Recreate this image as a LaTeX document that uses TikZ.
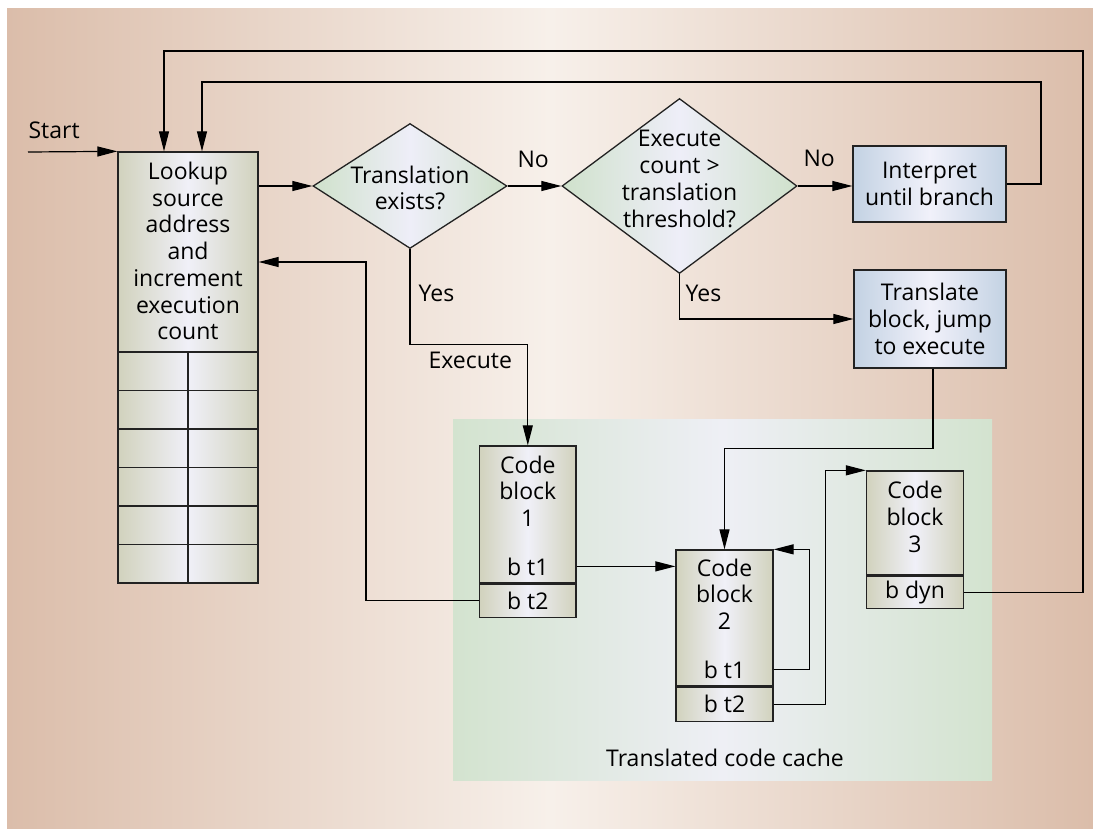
\documentclass[tikz,border=0pt]{standalone}
\usepackage{fontspec}
\setmainfont{Open Sans}
\usetikzlibrary{shapes.geometric,arrows.meta}
\definecolor{bgside}{HTML}{DBBDAA}
\definecolor{bgmid}{HTML}{F7F0EA}
\definecolor{cacheedge}{HTML}{D3E3CF}
\definecolor{cachemid}{HTML}{EEEFF5}
\definecolor{boxedge}{HTML}{D1D2BD}
\definecolor{boxmid}{HTML}{F0F0F8}
\definecolor{diaedge}{HTML}{CFE1CB}
\definecolor{diamid}{HTML}{EEEEF8}
\definecolor{blueedge}{HTML}{C3D2E3}
\definecolor{bluemid}{HTML}{F1F1FA}
\definecolor{linec}{HTML}{222222}
\begin{document}
\begin{tikzpicture}[x=1bp,y=-1bp,
  font=\fontsize{23bp}{26.7bp}\selectfont,
  line width=1.2bp,
  arr/.style={draw=black,-{Triangle[length=20bp,width=10bp]}},
  olivebox/.style={rectangle,draw=linec,line width=1.3bp,inner sep=0pt,
    left color=boxedge,right color=boxedge,middle color=boxmid},
  bluebox/.style={rectangle,draw=linec,line width=1.3bp,inner sep=0pt,align=center,
    left color=blueedge,right color=blueedge,middle color=bluemid},
  dia/.style={diamond,draw=linec,line width=1.3bp,inner sep=0pt,
    left color=diaedge,right color=diaedge,middle color=diamid},
  txt/.style={inner sep=0pt,align=center},
  lbl/.style={inner sep=0pt,anchor=base west}]
\useasboundingbox (0,0) rectangle (1093,829);
% background
\shade[left color=bgside,right color=bgside,middle color=bgmid] (7,8) rectangle (1093,829);
% translated code cache region
\node[rectangle,inner sep=0pt,minimum width=539bp,minimum height=361bp,
  left color=cacheedge,right color=cacheedge,middle color=cachemid] (cache) at (722.5,599.5) {};
\node[lbl,anchor=base] (cachelbl) at (725,766) {Translated code cache};

% lookup box with table
\node[olivebox,minimum width=140bp,minimum height=431bp] (lookup) at (188,367.5) {};
\node[txt] (lookuptxt) at (188,251) {Lookup\\source\\address\\and\\increment\\execution\\count};
\foreach \yy in {352,390.5,429,467.5,506,544.5}
  \draw[linec,line width=1.3bp] (lookup.west |- 0,\yy) -- (lookup.east |- 0,\yy);
\draw[linec,line width=1.3bp] (188,352) -- (lookup.south);

% decisions
\node[dia,minimum width=194bp,minimum height=125bp] (d1) at (410,186) {};
\node[txt] (d1txt) at (410,188) {Translation\\exists?};
\node[dia,minimum width=235bp,minimum height=175bp] (d2) at (679.5,186) {};
\node[txt] (d2txt) at (679.5,179) {Execute\\count >\\translation\\threshold?};

% right boxes
\node[bluebox,minimum width=153bp,minimum height=76bp] (interp) at (929.5,184) {Interpret\\until branch};
\node[bluebox,minimum width=152bp,minimum height=98bp] (tr) at (930,319) {Translate\\block, jump\\to execute};

% code blocks
\node[olivebox,minimum width=96.5bp,minimum height=137bp] (cb1) at (527.8,514.5) {};
\node[olivebox,minimum width=96.5bp,minimum height=33bp,anchor=north] (cb1b) at (cb1.south) {b t2};
\node[txt] (cb1txt) at (527.8,491) {Code\\block\\1};
\node[txt,anchor=base] (cb1t1) at (527.8,575) {b t1};

\node[olivebox,minimum width=97bp,minimum height=136bp] (cb2) at (724.5,618) {};
\node[olivebox,minimum width=97bp,minimum height=34bp,anchor=north] (cb2b) at (cb2.south) {b t2};
\node[txt] (cb2txt) at (724.5,594) {Code\\block\\2};
\node[txt,anchor=base] (cb2t1) at (724.5,678) {b t1};

\node[olivebox,minimum width=97bp,minimum height=104bp] (cb3) at (915,523) {};
\node[olivebox,minimum width=97bp,minimum height=32bp,anchor=north] (cb3b) at (cb3.south) {b dyn};
\node[txt] (cb3txt) at (915,517) {Code\\block\\3};

% labels
\coordinate (startpt) at (28,152);
\node[lbl] (startlbl) at (28,138) {Start};
\node[lbl] (no1) at (517,167) {No};
\node[lbl] (no2) at (803,166) {No};
\node[lbl] (yes1) at (418,301) {Yes};
\node[lbl] (yes2) at (685,301) {Yes};
\node[lbl] (exlbl) at (428,368) {Execute};

% connectors
\draw[arr] (startpt) -- (lookup.north west);
\draw[arr] (lookup.east |- d1.west) -- (d1.west);
\draw[arr] (d1.east) -- (d2.west);
\draw[arr] (d2.east) -- (d2.east -| interp.west);
\coordinate (loopB) at (1041,82);
\coordinate (loopA) at (1083,51);
\draw[arr] (interp.east) -| (loopB) -| ([xshift=14bp]lookup.north);
\draw[arr] (cb3b.east) -| (loopA) -| ([xshift=-24bp]lookup.north);
\draw[arr] (d1.south) -- ++(0,95) -| (cb1.north);
\draw[arr] (d2.south) |- (tr.west);
\draw[arr] ([xshift=3bp]tr.south) -- ++(0,80) -| (cb2.north);
\coordinate (ret) at (366,262);
\draw[arr] (cb1b.west) -| (ret) -- (ret -| lookup.east);
\draw[arr] (cb1.east |- cb1t1) -- (cb2.west |- cb1t1);
\draw[arr] (cb2.east |- cb2t1) -| ([xshift=36bp]cb2.north east) -- (cb2.north east);
\draw[arr] (cb2b.east) -| ([xshift=-40bp]cb3.north west) -- (cb3.north west);
\end{tikzpicture}
\end{document}
